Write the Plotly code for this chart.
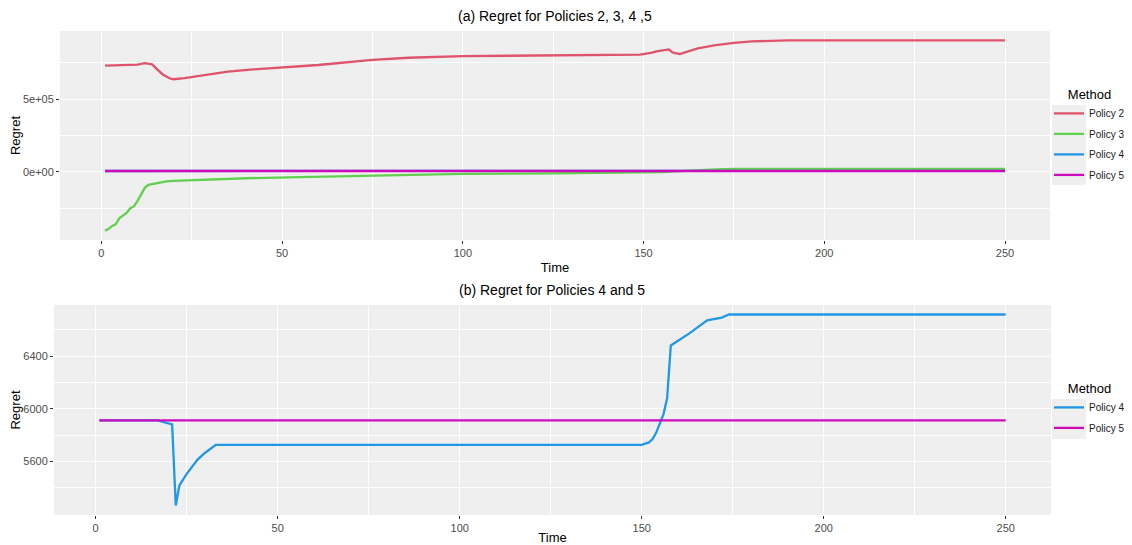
import plotly.graph_objects as go

# ---------------- data ----------------
t_p2 = [1, 5, 10, 12, 14, 15, 17, 19, 20, 23, 28, 35, 42, 50, 60, 75, 85, 100, 120, 140, 149,
        152, 154, 157, 158, 160, 165, 170, 175, 180, 185, 190, 250]
v_p2 = [731e3, 733e3, 737e3, 748e3, 740e3, 715e3, 670e3, 642e3, 637e3, 645e3, 665e3, 690e3,
        705e3, 718e3, 735e3, 770e3, 785e3, 796e3, 800e3, 802e3, 806e3, 818e3, 830e3, 842e3,
        822e3, 810e3, 850e3, 872e3, 888e3, 898e3, 903e3, 905e3, 905e3]

t_p3 = [1, 2, 3, 4, 5, 6, 7, 8, 9, 10, 11, 12, 13, 15, 18, 20, 30, 40, 55, 75, 100, 125,
        140, 150, 155, 160, 165, 170, 175, 250]
v_p3 = [-405e3, -392e3, -372e3, -360e3, -318e3, -300e3, -282e3, -250e3, -238e3, -200e3,
        -150e3, -110e3, -90e3, -80e3, -66e3, -62e3, -52e3, -44e3, -36e3, -25e3, -14e3,
        -10e3, -8e3, -5e3, -1e3, 5e3, 12e3, 17e3, 20e3, 20e3]

t_p4 = [1, 17, 21, 22, 23, 25, 28, 30, 33, 150, 152, 153, 154, 155, 156, 157, 158, 163,
        168, 172, 174, 250]
v_p4 = [5912, 5912, 5882, 5267, 5420, 5507, 5615, 5665, 5727, 5727, 5745, 5770, 5820,
        5890, 5960, 6082, 6480, 6570, 6670, 6692, 6715, 6715]

t_p5 = [1, 250]
v_p5 = [5912, 5912]

colors = {"Policy 2": "#DF536B", "Policy 3": "#61D04F",
          "Policy 4": "#2297E6", "Policy 5": "#CD0BBC"}

x_ticks = [0, 50, 100, 150, 200, 250]
y1_ticks = [0, 5e5]
y1_ticktext = ["0e+00", "5e+05"]
y2_ticks = [5600, 6000, 6400]
y2_ticktext = ["5600", "6000", "6400"]

title_a = "(a) Regret for Policies 2, 3, 4 ,5"
title_b = "(b) Regret for Policies 4 and 5"

# ---------------- figure ----------------
# the page body has an 8px margin, so the figure starts 8px in; all target
# screen positions are shifted by that offset.
OFF = 8
W, H = 1132 - OFF, 545 - OFF
FONT = "Liberation Sans, Arial, sans-serif"
PANEL = "#EFEFEF"


def px_x(p):
    return (p - OFF) / W


def px_y(p):
    return 1 - (p - OFF) / H


fig = go.Figure()

data_top = [("Policy 2", t_p2, v_p2), ("Policy 3", t_p3, v_p3),
            ("Policy 4", t_p4, v_p4), ("Policy 5", t_p5, v_p5)]
for name, t, v in data_top:
    fig.add_trace(go.Scatter(x=t, y=v, mode="lines", name=name,
                             line=dict(color=colors[name], width=2.3),
                             legendgroup="a" + name,
                             xaxis="x", yaxis="y", legend="legend"))

data_bot = [("Policy 4", t_p4, v_p4), ("Policy 5", t_p5, v_p5)]
for name, t, v in data_bot:
    fig.add_trace(go.Scatter(x=t, y=v, mode="lines", name=name,
                             line=dict(color=colors[name], width=2.3),
                             legendgroup="b" + name,
                             xaxis="x2", yaxis="y2", legend="legend2"))

xr = [-11.45, 262.45]
common_axis = dict(showline=False, zeroline=False, gridcolor="white", gridwidth=1.1,
                   automargin=False,
                   ticks="outside", ticklen=3, tickwidth=1, tickcolor="#333333",
                   tickfont=dict(family=FONT, size=11, color="#4D4D4D"),
                   title_font=dict(family=FONT, size=13, color="black"))
minor_x = dict(dtick=25, tick0=0, showgrid=True, gridcolor="white", gridwidth=0.5, ticks="")

legend_common = dict(xanchor="left", yanchor="top", bgcolor="rgba(0,0,0,0)",
                     itemwidth=30, tracegroupgap=1.5,
                     title=dict(text="Method", side="top center",
                                font=dict(family=FONT, size=13, color="black")),
                     font=dict(family=FONT, size=10, color="#1A1A1A"))

fig.update_layout(
    width=W, height=H,
    margin=dict(l=0, r=0, t=0, b=0, autoexpand=False),
    paper_bgcolor="white", plot_bgcolor=PANEL,
    font=dict(family=FONT, color="black"),
    xaxis=dict(domain=[px_x(60), px_x(1050)], anchor="y", range=xr,
               tickmode="array", tickvals=x_ticks, minor=minor_x,
               title=dict(text="Time", standoff=4), **common_axis),
    yaxis=dict(domain=[px_y(240), px_y(31)], anchor="x", range=[-469e3, 969e3],
               tickmode="array", tickvals=y1_ticks, ticktext=y1_ticktext,
               minor=dict(dtick=2.5e5, tick0=0, showgrid=True, gridcolor="white", gridwidth=0.5, ticks=""),
               title=dict(text="Regret", standoff=6), **common_axis),
    xaxis2=dict(domain=[px_x(54), px_x(1051)], anchor="y2", range=xr,
                tickmode="array", tickvals=x_ticks, minor=minor_x,
                title=dict(text="Time", standoff=4), **common_axis),
    yaxis2=dict(domain=[px_y(515), px_y(305)], anchor="x2", range=[5195, 6787],
                tickmode="array", tickvals=y2_ticks, ticktext=y2_ticktext,
                minor=dict(dtick=200, tick0=5400, showgrid=True, gridcolor="white", gridwidth=0.5, ticks=""),
                title=dict(text="Regret", standoff=6), **common_axis),
    legend=dict(x=px_x(1049), y=px_y(82), **legend_common),
    legend2=dict(x=px_x(1049), y=px_y(376), **legend_common),
    showlegend=True,
)

# panel titles
fig.add_annotation(text=title_a, x=px_x(555), y=px_y(16), xref="paper", yref="paper",
                   showarrow=False, xanchor="center", yanchor="middle",
                   font=dict(family=FONT, size=14, color="black"))
fig.add_annotation(text=title_b, x=px_x(552), y=px_y(290), xref="paper", yref="paper",
                   showarrow=False, xanchor="center", yanchor="middle",
                   font=dict(family=FONT, size=14, color="black"))

# grey legend key backgrounds (ggplot style)
fig.add_shape(type="rect", xref="paper", yref="paper", x0=px_x(1052), x1=px_x(1086),
              y0=px_y(185), y1=px_y(105), fillcolor=PANEL, line_width=0, layer="below")
fig.add_shape(type="rect", xref="paper", yref="paper", x0=px_x(1052), x1=px_x(1086),
              y0=px_y(439), y1=px_y(399), fillcolor=PANEL, line_width=0, layer="below")

fig.write_html("out.html")
